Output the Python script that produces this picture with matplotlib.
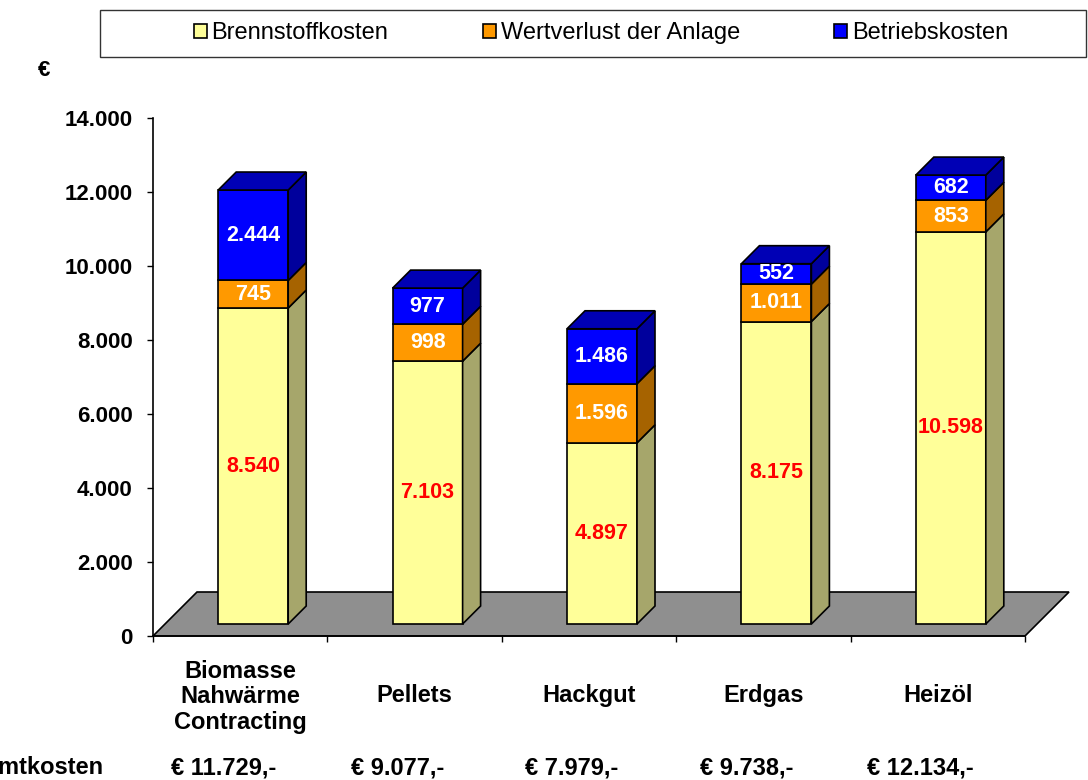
import matplotlib.pyplot as plt
from matplotlib.patches import Polygon, Rectangle

plt.rcParams['font.family'] = ['Liberation Sans', 'DejaVu Sans']

categories = ["Biomasse\nNahwärme\nContracting", "Pellets", "Hackgut", "Erdgas", "Heizöl"]
brennstoff = [8540, 7103, 4897, 8175, 10598]
wertverlust = [745, 998, 1596, 1011, 853]
betrieb = [2444, 977, 1486, 552, 682]
gesamt = ["€ 11.729,-", "€ 9.077,-", "€ 7.979,-", "€ 9.738,-", "€ 12.134,-"]
series_names = ["Brennstoffkosten", "Wertverlust der Anlage", "Betriebskosten"]
yticks = [0, 2000, 4000, 6000, 8000, 10000, 12000, 14000]

front_cols = ['#FFFF99', '#FF9900', '#0000FF']
side_cols = ['#A6A66B', '#A66300', '#00009C']
top_cols = ['#CCCC7A', '#CC7A00', '#0000B5']
label_cols = ['#FF0000', 'white', 'white']

W, H = 1088, 780
fig = plt.figure(figsize=(W / 100, H / 100), dpi=100)
ax = fig.add_axes([153 / W, 1 - 636 / H, 872 / W, 518 / H])
ax.set_xlim(0, len(categories))
ax.set_ylim(0, 14000)

# pixel -> data units
ux = len(categories) / 872
uy = 14000 / 518

# floor
fd = 44
floor = Polygon([(0, 0), (5, 0), (5 + fd * ux, fd * uy), (fd * ux, fd * uy)],
                closed=True, facecolor='#8F8F8F', edgecolor='black', lw=1.2,
                clip_on=False, zorder=1)
ax.add_patch(floor)

# bars
ox, oy = 13 * ux, 12 * uy      # bar front shift from axis plane
bd = 18                        # bar depth (px)
dx, dy = bd * ux, bd * uy
hw = 35 * ux
series = [brennstoff, wertverlust, betrieb]
for i in range(len(categories)):
    c = i + 0.5 + ox
    x0, x1 = c - hw, c + hw
    bottom = oy
    for s, vals in enumerate(series):
        v = vals[i]
        top = bottom + v
        ax.add_patch(Rectangle((x0, bottom), x1 - x0, v, facecolor=front_cols[s],
                               edgecolor='black', lw=1.2, zorder=3, clip_on=False))
        ax.add_patch(Polygon([(x1, bottom), (x1 + dx, bottom + dy), (x1 + dx, top + dy), (x1, top)],
                             closed=True, facecolor=side_cols[s], edgecolor='black',
                             lw=1.2, zorder=3, clip_on=False))
        ax.text(c, bottom + v / 2, f"{v:,}".replace(',', '.'), ha='center', va='center',
                color=label_cols[s], fontsize=15.5, fontweight='bold', zorder=5)
        bottom = top
    ax.add_patch(Polygon([(x0, bottom), (x0 + dx, bottom + dy), (x1 + dx, bottom + dy), (x1, bottom)],
                         closed=True, facecolor=top_cols[2], edgecolor='black',
                         lw=1.2, zorder=3, clip_on=False))

# axes styling
for sp in ['top', 'right']:
    ax.spines[sp].set_visible(False)
ax.spines['left'].set_linewidth(1.2)
ax.spines['bottom'].set_linewidth(1.2)
ax.spines['bottom'].set_zorder(2)
ax.set_yticks(yticks)
ax.set_yticklabels([f"{t:,}".replace(',', '.') for t in yticks], fontsize=16, fontweight='bold')
ax.set_xticks(range(len(categories) + 1))
ax.set_xticklabels([])
ax.tick_params(axis='y', direction='out', length=4.5, width=1, pad=10)
ax.tick_params(axis='x', direction='out', length=4.5, width=1)

trans = ax.get_xaxis_transform()
for i, name in enumerate(categories):
    nl = name.count('\n')
    base_px = 702 + 27 * nl / 2
    ax.text(i + 0.5, -(base_px - 636) / 518, name, transform=trans, ha='center', va='baseline',
            fontsize=17, fontweight='bold', linespacing=1.15)
    ax.text(i + 0.5 - 17 * ux, -132 / 518, gesamt[i], transform=trans, ha='center',
            va='center', fontsize=17, fontweight='bold')
fig.text(103 / W, 1 - 768 / H, "Gesamtkosten", ha='right', va='center',
         fontsize=17, fontweight='bold')
fig.text(44 / W, 1 - 70 / H, "€", ha='center', va='center', fontsize=16, fontweight='bold')

# legend
fig.patches.append(Rectangle((100 / W, 1 - 57 / H), 986 / W, 47 / H, transform=fig.transFigure,
                             facecolor='white', edgecolor='#333333', lw=1))
handles = [Rectangle((0, 0), 1, 1, facecolor=front_cols[s], edgecolor='black', lw=1.2)
           for s in range(3)]
fig.legend(handles, series_names, ncol=3, loc='center', bbox_to_anchor=(601 / W, 1 - 33 / H),
           frameon=False, fontsize=17, handlelength=0.55, handleheight=0.55,
           handletextpad=0.2, columnspacing=4.0)

fig.savefig('out.png', dpi=100)
